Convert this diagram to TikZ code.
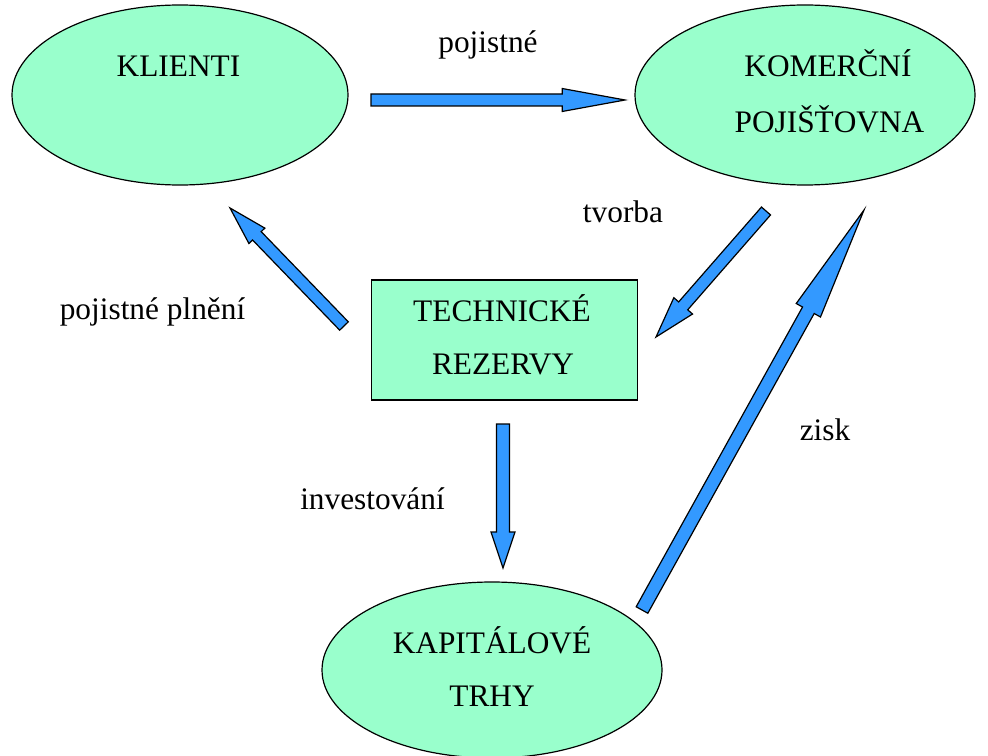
\documentclass[tikz,border=0pt]{standalone}
\usepackage{fontspec}
\setmainfont{Liberation Serif}
\usetikzlibrary{calc,shapes.geometric}

\definecolor{mint}{HTML}{99FFCC}
\definecolor{arrowblue}{HTML}{3399FF}

\tikzset{
  box/.style={draw=black, line width=0.9pt, fill=mint, inner sep=0pt},
  oval/.style={box, ellipse},
  rect/.style={box, rectangle},
  caption/.style={font=\fontsize{23.5}{28}\selectfont, anchor=base, inner sep=0pt},
  blockarrow/.style={draw=black, line width=0.9pt, fill=arrowblue, line join=miter}
}

% block arrow from #1 (tail) to #2 (tip): #3 shaft half width, #4 head length, #5 head half width
\newcommand\blockarrow[5]{%
  \coordinate (#1-#2-base) at ($(#2)!#4!(#1)$);
  \draw[blockarrow]
    ($(#1)!#3!90:(#2)$) -- ($(#1-#2-base)!#3!90:(#2)$) -- ($(#1-#2-base)!#5!90:(#2)$)
    -- (#2)
    -- ($(#1-#2-base)!#5!-90:(#2)$) -- ($(#1-#2-base)!#3!-90:(#2)$) -- ($(#1)!#3!-90:(#2)$)
    -- cycle;
}

\begin{document}
\begin{tikzpicture}[x=0.75pt, y=-0.75pt]
  \useasboundingbox (0,0) rectangle (988,756);

  % boxes
  \node[oval, minimum width=252pt, minimum height=135pt] (klienti) at (180,95) {};
  \node[oval, minimum width=255pt, minimum height=135pt] (pojistovna) at (805,95) {};
  \node[oval, minimum width=255pt, minimum height=132pt] (trhy) at (492,670) {};
  \node[rect, minimum width=199pt, minimum height=90pt] (rezervy) at (504.5,340) {};

  % box texts
  \node[caption] (t-klienti) at (178.5,77) {KLIENTI};
  \node[caption] (t-komercni) at (828,77) {KOMERČNÍ};
  \node[caption] (t-pojistovna) at (829.5,133) {POJIŠŤOVNA};
  \node[caption] (t-technicke) at (502,321) {TECHNICKÉ};
  \node[caption] (t-rezervy) at (503,374) {REZERVY};
  \node[caption] (t-kapitalove) at (492,653) {KAPITÁLOVÉ};
  \node[caption] (t-trhy) at (492,706) {TRHY};

  % arrow labels
  \node[caption] (l-pojistne) at (488,53) {pojistné};
  \node[caption] (l-tvorba) at (623,222) {tvorba};
  \node[caption] (l-plneni) at (152.5,319) {pojistné plnění};
  \node[caption] (l-zisk) at (825,440) {zisk};
  \node[caption] (l-invest) at (372.5,509) {investování};

  % arrow end points
  \coordinate (a1) at (371,100);  \coordinate (b1) at (625,100);
  \coordinate (a2) at (766,211);  \coordinate (b2) at (656,337);
  \coordinate (a3) at (642,610);  \coordinate (b3) at (864,210);
  \coordinate (a4) at (344,326);  \coordinate (b4) at (230,208);
  \coordinate (a5) at (503,424);  \coordinate (b5) at (503,568);

  \blockarrow{a1}{b1}{4.5pt}{47pt}{8.6pt}
  \blockarrow{a2}{b2}{4.5pt}{31pt}{9.3pt}
  \blockarrow{a3}{b3}{5pt}{86pt}{10.4pt}
  \blockarrow{a4}{b4}{4.5pt}{29pt}{8.3pt}
  \blockarrow{a5}{b5}{4.9pt}{27pt}{9pt}
\end{tikzpicture}
\end{document}
